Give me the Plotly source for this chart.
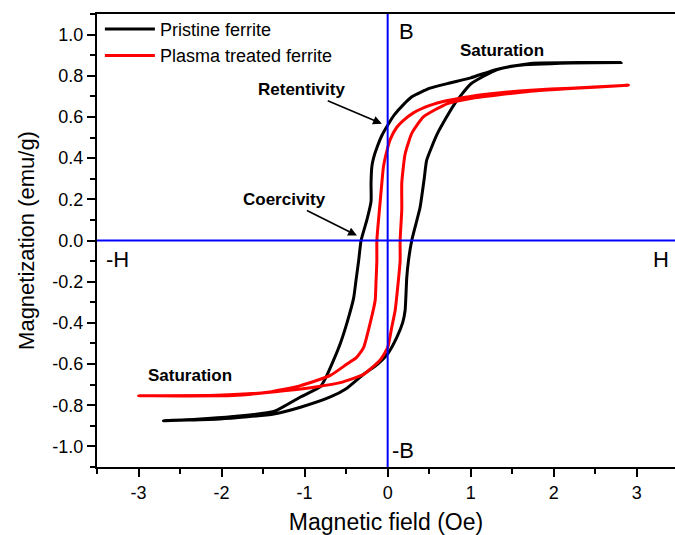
## ----------- imports ----------- ##
import plotly.graph_objects as go


## ----------- data ----------- ##
# pristine ferrite: descending branch (+sat -> -sat), then ascending branch
PRISTINE_DOWN_H = [2.81, 2.2, 1.56, 1.3, 1.0, 0.75, 0.51, 0.3, 0.19, 0.08, 0.0, -0.07, -0.13, -0.17,
                   -0.19, -0.2, -0.2, -0.25, -0.32, -0.35, -0.38, -0.41, -0.49, -0.57, -0.65, -0.75,
                   -0.81, -1.05, -1.37, -1.86, -2.3, -2.70]
PRISTINE_DOWN_M = [0.865, 0.862, 0.85, 0.83, 0.79, 0.765, 0.74, 0.70, 0.66, 0.61, 0.56, 0.51, 0.45, 0.40,
                   0.36, 0.28, 0.19, 0.10, 0.0, -0.10, -0.19, -0.28, -0.40, -0.50, -0.58, -0.67,
                   -0.71, -0.76, -0.83, -0.855, -0.868, -0.875]
PRISTINE_UP_H = [-2.70, -2.02, -1.37, -1.05, -0.69, -0.5, -0.29, -0.12, 0.0, 0.11, 0.18, 0.21, 0.23,
                 0.25, 0.29, 0.34, 0.39, 0.44, 0.47, 0.60, 0.80, 1.0, 1.32, 1.72, 2.81]
PRISTINE_UP_M = [-0.875, -0.867, -0.843, -0.81, -0.76, -0.72, -0.65, -0.60, -0.55, -0.47, -0.40, -0.34,
                 -0.18, -0.10, 0.0, 0.08, 0.16, 0.30, 0.39, 0.52, 0.66, 0.76, 0.83, 0.86, 0.865]

# plasma treated ferrite
PLASMA_DOWN_H = [2.90, 2.2, 1.72, 1.3, 1.0, 0.72, 0.5, 0.31, 0.18, 0.11, 0.03, 0.0, -0.05, -0.07, -0.09,
                 -0.11, -0.13, -0.13, -0.14, -0.15, -0.21, -0.29, -0.38, -0.49, -0.69, -1.05, -1.45,
                 -2.06, -3.0]
PLASMA_DOWN_M = [0.754, 0.74, 0.73, 0.715, 0.70, 0.68, 0.655, 0.62, 0.58, 0.55, 0.49, 0.45, 0.36, 0.28,
                 0.19, 0.10, 0.0, -0.10, -0.20, -0.29, -0.40, -0.52, -0.57, -0.60, -0.655, -0.705,
                 -0.737, -0.752, -0.754]
PLASMA_UP_H = [-3.0, -1.86, -1.25, -0.85, -0.57, -0.29, -0.09, 0.0, 0.05, 0.09, 0.13, 0.15, 0.15, 0.17,
               0.17, 0.21, 0.29, 0.43, 0.72, 1.0, 1.72, 2.90]
PLASMA_UP_M = [-0.754, -0.753, -0.73, -0.71, -0.69, -0.65, -0.58, -0.52, -0.42, -0.34, -0.19, -0.10, 0.0,
               0.15, 0.28, 0.42, 0.52, 0.60, 0.665, 0.69, 0.725, 0.754]

SERIES_NAMES = ["Pristine ferrite", "Plasma treated ferrite"]
SERIES_COLORS = ["black", "red"]

X_TICKS = [-3, -2, -1, 0, 1, 2, 3]
X_TICKTEXT = ["-3", "-2", "-1", "0", "1", "2", "3"]
Y_TICKS = [-1.0, -0.8, -0.6, -0.4, -0.2, 0.0, 0.2, 0.4, 0.6, 0.8, 1.0]
Y_TICKTEXT = ["-1.0", "-0.8", "-0.6", "-0.4", "-0.2", "0.0", "0.2", "0.4", "0.6", "0.8", "1.0"]

FONT = "Arial, Liberation Sans, sans-serif"


## ----------- plot ----------- ##
fig = go.Figure()

loops = [
    (PRISTINE_DOWN_H + PRISTINE_UP_H[1:], PRISTINE_DOWN_M + PRISTINE_UP_M[1:]),
    (PLASMA_DOWN_H + PLASMA_UP_H[1:], PLASMA_DOWN_M + PLASMA_UP_M[1:]),
]
for (hx, my), name, color in zip(loops, SERIES_NAMES, SERIES_COLORS):
    fig.add_trace(go.Scatter(
        x=hx, y=my, mode="lines", name=name,
        line=dict(color=color, width=3, shape="spline", smoothing=0.5),
    ))

# blue H / B axes through the origin, drawn over the loops
fig.add_shape(type="line", xref="x", yref="paper", x0=0, x1=0, y0=0, y1=1,
              line=dict(color="blue", width=2), layer="above")
fig.add_shape(type="line", xref="paper", yref="y", x0=0, x1=1, y0=0, y1=0,
              line=dict(color="blue", width=2), layer="above")

# plain text labels
labels = [
    (0.23, 1.015, "B", 22, False),
    (0.19, -1.02, "-B", 22, False),
    (3.29, -0.09, "H", 22, False),
    (-3.25, -0.09, "-H", 22, False),
    (1.38, 0.925, "Saturation", 17, True),
    (-2.38, -0.655, "Saturation", 17, True),
]
for x, y, txt, size, bold in labels:
    fig.add_annotation(
        x=x, y=y, text=f"<b>{txt}</b>" if bold else txt, showarrow=False,
        font=dict(family=FONT, size=size, color="black"),
    )

# arrows to the remanence and coercive points
arrows = [
    (-0.07, 0.567, "Retentivity", -80, -34),
    (-0.37, 0.024, "Coercivity", -72, -36),
]
for x, y, txt, ax, ay in arrows:
    fig.add_annotation(
        x=x, y=y, text=f"<b>{txt}</b>", showarrow=True,
        ax=ax, ay=ay, arrowhead=2, arrowsize=1.1, arrowwidth=1.6, arrowcolor="black",
        font=dict(family=FONT, size=17, color="black"),
    )

axis_common = dict(
    showline=True, linecolor="black", linewidth=2,
    showgrid=False, zeroline=False, automargin=False,
    ticks="outside", ticklen=8, tickwidth=2, tickcolor="black",
    tickfont=dict(family=FONT, size=18, color="black"),
)

fig.update_layout(
    width=675, height=535,
    margin=dict(l=97, r=0, t=14, b=68),
    plot_bgcolor="white", paper_bgcolor="white",
    font=dict(family=FONT, color="black"),
    xaxis=dict(
        axis_common, mirror=True, range=[-3.5, 3.46],
        tickvals=X_TICKS, ticktext=X_TICKTEXT,
        minor=dict(dtick=0.5, ticks="outside", ticklen=5, tickwidth=1.5, tickcolor="black"),
        title=dict(text="Magnetic field (Oe)", font=dict(family=FONT, size=23), standoff=14),
    ),
    yaxis=dict(
        axis_common, range=[-1.1, 1.1],
        tickvals=Y_TICKS, ticktext=Y_TICKTEXT,
        minor=dict(dtick=0.1, ticks="outside", ticklen=5, tickwidth=1.5, tickcolor="black"),
        title=dict(text="Magnetization (emu/g)", font=dict(family=FONT, size=22), standoff=12),
    ),
    legend=dict(
        x=0.005, y=1.007, xanchor="left", yanchor="top",
        bgcolor="rgba(0,0,0,0)", font=dict(family=FONT, size=18),
        tracegroupgap=0, itemwidth=50,
    ),
    showlegend=True,
)

# drop the page's default body margin so the 675x535 figure sits flush in the window
fig.write_html(
    "out.html",
    config={"displayModeBar": False},
    post_script="document.body.style.margin='0';",
)
